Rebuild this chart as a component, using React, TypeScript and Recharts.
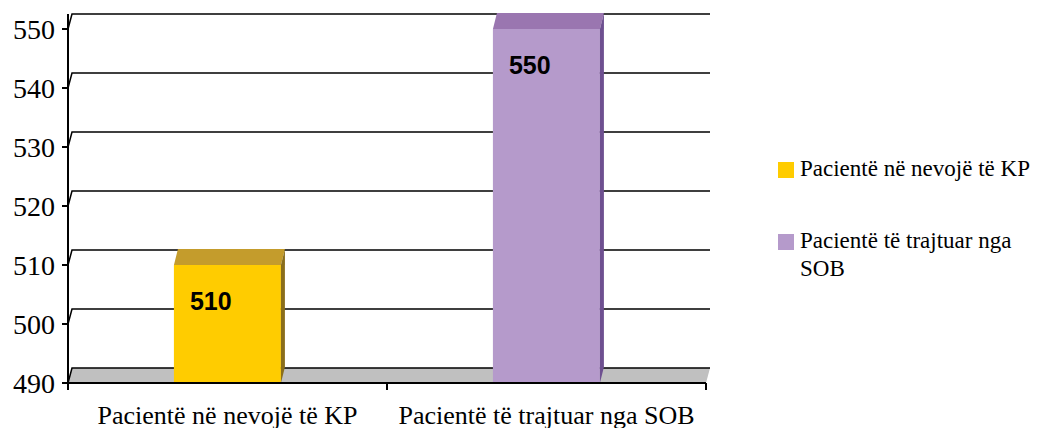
import { BarChart, Bar, XAxis, YAxis, CartesianGrid, Cell } from 'recharts';

const categories = ['Pacientë në nevojë të KP', 'Pacientë të trajtuar nga SOB'];
const values = [510, 550];
const yTicks = [490, 500, 510, 520, 530, 540, 550];

const frontColors = ['#FFCC00', '#B59ACB'];
const topColors = ['#C49C2C', '#9A76B0'];
const sideColors = ['#8A6E1C', '#6E5090'];

const W = 1024;
const H = 420;
const M = { top: 21, right: 326, left: 0, bottom: 0 };
const Y_W = 60;
const X_H = 45;
const PLOT_W = W - M.left - M.right - Y_W;
const PLOT_H = H - M.top - M.bottom - X_H;
const BAND = PLOT_W / categories.length;
const DX = 4;
const DY_GRID = 15;
const DY_BAR = 16;

const serif = '"Liberation Serif", "Times New Roman", serif';
const sans = '"Liberation Sans", Arial, sans-serif';

const rows = categories.map((name, i) => ({ name, value: values[i] }));

// back-wall grid lines, shifted for the 3D depth
function GridLine(props: any) {
  const { x1, y1, x2 } = props;
  const back = y1 - DY_GRID;
  const isFloor = Math.abs(y1 - (M.top + PLOT_H)) < 1;
  const isTop = Math.abs(y1 - M.top) < 1;
  return (
    <g key={`grid-${y1}`}>
      {isFloor && (
        <polygon
          points={`${x1},${y1} ${x1 + DX},${back} ${x2 + DX},${back} ${x2},${y1}`}
          fill="#C0C0C0"
        />
      )}
      <polyline
        points={`${x1},${y1} ${x1 + DX},${back} ${x2 + DX},${back}`}
        fill="none"
        stroke="#000"
        strokeWidth={1.5}
      />
      {isTop && <line x1={x1} y1={y1} x2={x1} y2={back} stroke="#000" strokeWidth={2} />}
    </g>
  );
}

function Bar3D(props: any) {
  const { x, y, width, height, index } = props;
  const r = x + width;
  const b = y + height;
  const labelY = Math.min(y + height / 2, y + 36);
  return (
    <g>
      <rect x={x} y={y} width={width} height={height} fill={frontColors[index]} />
      <polygon
        points={`${x},${y} ${x + DX},${y - DY_BAR} ${r + DX},${y - DY_BAR} ${r},${y}`}
        fill={topColors[index]}
      />
      <polygon
        points={`${r},${y} ${r + DX},${y - DY_BAR} ${r + DX},${b - DY_BAR} ${r},${b}`}
        fill={sideColors[index]}
      />
      <text
        x={x + 16}
        y={labelY + 9}
        fontFamily={sans}
        fontWeight="bold"
        fontSize={25}
        fill="#000"
      >
        {values[index]}
      </text>
    </g>
  );
}

function XTick(props: any) {
  const { x, y, payload, index } = props;
  const left = x - BAND / 2;
  const right = x + BAND / 2;
  return (
    <g>
      <line x1={left} y1={y} x2={left} y2={y + 7} stroke="#000" strokeWidth={2} />
      {index === categories.length - 1 && (
        <line x1={right} y1={y} x2={right} y2={y + 7} stroke="#000" strokeWidth={2} />
      )}
      <text x={x} y={y + 41} textAnchor="middle" fontFamily={serif} fontSize={26} fill="#000">
        {payload.value}
      </text>
    </g>
  );
}

export default function App() {
  return (
    <div style={{ position: 'relative', width: W, height: H }}>
      <BarChart width={W} height={H} data={rows} margin={M} barCategoryGap="33.2%">
        <CartesianGrid vertical={false} horizontal={(p: any) => <GridLine {...p} />} />
        <XAxis
          dataKey="name"
          height={X_H}
          interval={0}
          tickLine={false}
          tickSize={0}
          tickMargin={0}
          axisLine={{ stroke: '#000', strokeWidth: 2 }}
          tick={(p: any) => <XTick {...p} />}
        />
        <YAxis
          width={Y_W}
          domain={[490, 550]}
          ticks={yTicks}
          interval={0}
          tickSize={6}
          tickMargin={7}
          axisLine={{ stroke: '#000', strokeWidth: 2 }}
          tickLine={{ stroke: '#000', strokeWidth: 2 }}
          tick={{ fill: '#000', fontSize: 28, fontFamily: serif }}
        />
        <Bar dataKey="value" isAnimationActive={false} shape={(p: any) => <Bar3D {...p} />}>
          {rows.map((r, i) => (
            <Cell key={r.name} fill={frontColors[i]} />
          ))}
        </Bar>
      </BarChart>
      <div style={{ position: 'absolute', left: 770, top: 147, fontFamily: serif, fontSize: 23, lineHeight: '28px', color: '#000' }}>
        {categories.map((c, i) => (
          <div key={c} style={{ display: 'flex', alignItems: 'flex-start', marginTop: i === 0 ? 0 : 44 }}>
            <div style={{ width: 16, height: 16, marginTop: 7, marginRight: 6, background: frontColors[i], flex: 'none' }} />
            <div style={{ width: 236 }}>{c}</div>
          </div>
        ))}
      </div>
    </div>
  );
}
